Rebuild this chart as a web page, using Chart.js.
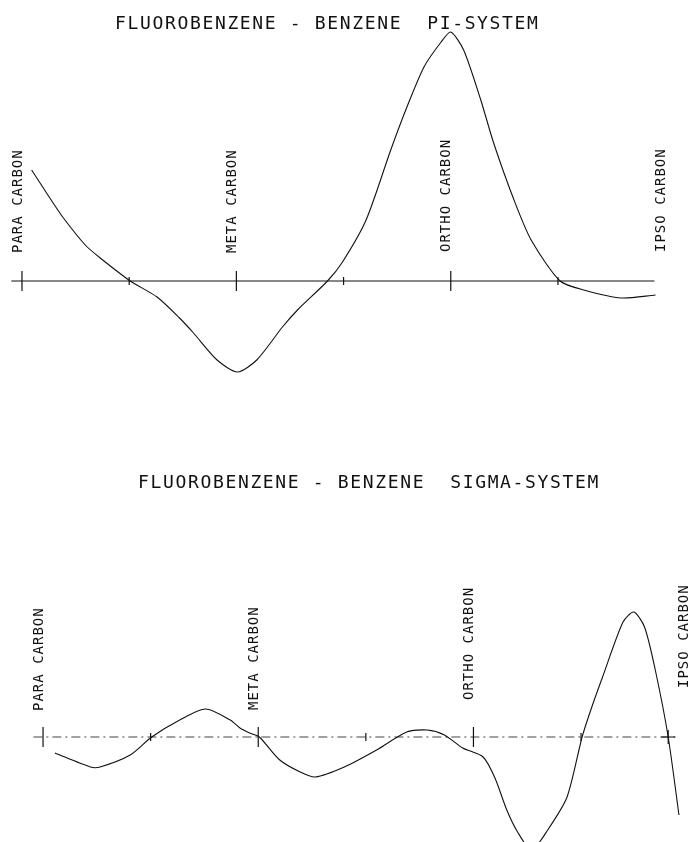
<!DOCTYPE html>
<html>
<head>
<meta charset="utf-8">
<script src="https://cdn.jsdelivr.net/npm/chart.js@4"></script>
<style>
  html, body { margin: 0; padding: 0; background: #fff; }
  .panel { position: absolute; left: 0; width: 688px; height: 421px; }
</style>
</head>
<body>
<div class="panel" style="top:0"><canvas id="pi" width="688" height="421"></canvas></div>
<div class="panel" style="top:421px"><canvas id="sigma" width="688" height="421"></canvas></div>
<script>
// ring positions along the x axis (para = 0 ... ipso = 6)
const carbonLabels = ["PARA CARBON", "META CARBON", "ORTHO CARBON", "IPSO CARBON"];
const carbonPositions = [0, 2, 4, 6];

// pi-system difference curve
const piX = [0.09, 0.26, 0.38, 0.59, 0.73, 1.01, 1.26, 1.47, 1.60, 1.82,
             2.01, 2.19, 2.43, 2.57, 2.85, 2.99, 3.21, 3.44, 3.58, 3.75,
             3.91, 4.00, 4.12, 4.28, 4.40, 4.59, 4.75, 5.02, 5.24, 5.59, 5.91];
const piY = [0.111, 0.083, 0.064, 0.036, 0.023, 0, -0.016, -0.037, -0.052, -0.079,
             -0.091, -0.079, -0.046, -0.029, 0, 0.019, 0.061, 0.131, 0.171, 0.214,
             0.239, 0.249, 0.231, 0.181, 0.138, 0.081, 0.041, 0, -0.009, -0.017, -0.014];
const piTicks = [0, 1, 2, 3, 4, 5];

// sigma-system difference curve
const sigmaX = [0.11, 0.44, 0.53, 0.81, 1.01, 1.27, 1.51, 1.74, 1.83, 1.92,
                2.01, 2.20, 2.39, 2.53, 2.80, 3.10, 3.38, 3.57, 3.73, 3.90,
                4.09, 4.20, 4.31, 4.41, 4.54, 4.69, 4.87, 5.01, 5.10, 5.20,
                5.39, 5.49, 5.59, 5.69, 5.81, 5.91];
const sigmaY = [-0.016, -0.030, -0.030, -0.018, 0, 0.017, 0.028, 0.017, 0.009, 0.004,
                0, -0.023, -0.035, -0.040, -0.030, -0.013, 0.005, 0.007, 0.002, -0.011,
                -0.020, -0.041, -0.073, -0.095, -0.113, -0.093, -0.060, 0, 0.030, 0.060,
                0.115, 0.125, 0.110, 0.067, 0, -0.078];
const sigmaTicks = [0, 1, 2, 3, 4, 5, 5.81];

const INK = "#111";
const MONO = "'DejaVu Sans Mono', monospace";

const decor = {
    id: "decor",
    beforeDatasetsDraw(chart, args, opts) {
        const { ctx } = chart;
        const x = chart.scales.x;
        const y0 = chart.scales.y.getPixelForValue(0);
        ctx.save();
        ctx.strokeStyle = opts.axisColor;
        ctx.lineWidth = 1.2;
        ctx.setLineDash(opts.axisDash);
        ctx.beginPath();
        ctx.moveTo(x.getPixelForValue(opts.axisFrom), y0);
        ctx.lineTo(x.getPixelForValue(opts.axisTo), y0);
        ctx.stroke();
        ctx.restore();
    },
    afterDraw(chart, args, opts) {
        const { ctx } = chart;
        const x = chart.scales.x;
        const y0 = chart.scales.y.getPixelForValue(0);
        ctx.save();
        ctx.fillStyle = INK;
        ctx.textAlign = "left";
        ctx.textBaseline = "alphabetic";
        ctx.font = "18px " + MONO;
        ctx.letterSpacing = "1.65px";
        ctx.fillText(opts.title, opts.titleX, opts.titleY);

        ctx.font = "14px " + MONO;
        ctx.letterSpacing = "1px";
        ctx.textBaseline = "middle";
        carbonLabels.forEach((label, i) => {
            ctx.save();
            ctx.translate(x.getPixelForValue(carbonPositions[i]) - 4, y0 - opts.lift[i]);
            ctx.rotate(-Math.PI / 2);
            ctx.fillText(label, 0, 0);
            ctx.restore();
        });
        ctx.restore();
    },
};

function makePanel(canvasId, xs, ys, ticks, xRange, yRange, decorOpts) {
    const curve = xs.map((v, i) => ({ x: v, y: ys[i] }));
    const marks = ticks.map((v) => ({ x: v, y: 0 }));
    const isCross = (c) => c.raw && !Number.isInteger(c.raw.x);

    return new Chart(document.getElementById(canvasId), {
        type: "scatter",
        data: {
            datasets: [
                {
                    data: curve,
                    showLine: true,
                    borderColor: INK,
                    borderWidth: 1.1,
                    tension: 0.25,
                    pointRadius: 0,
                },
                {
                    data: marks,
                    showLine: false,
                    borderColor: INK,
                    borderWidth: 1.2,
                    pointStyle: (c) => (isCross(c) ? "cross" : "line"),
                    rotation: (c) => (isCross(c) ? 0 : 90),
                    pointRadius: (c) => {
                        if (isCross(c)) return 7;
                        return carbonPositions.includes(c.raw.x) ? 10 : 4;
                    },
                },
            ],
        },
        options: {
            responsive: false,
            animation: false,
            events: [],
            layout: { padding: 0, autoPadding: false },
            scales: {
                x: { type: "linear", min: xRange[0], max: xRange[1], display: false },
                y: { min: yRange[0], max: yRange[1], display: false },
            },
            plugins: {
                legend: { display: false },
                tooltip: { enabled: false },
                decor: decorOpts,
            },
        },
        plugins: [decor],
    });
}

makePanel("pi", piX, piY, piTicks, [-0.205, 6.213], [-0.140, 0.281], {
    title: "FLUOROBENZENE - BENZENE  PI-SYSTEM",
    titleX: 115,
    titleY: 29,
    lift: [28, 28, 29, 29],
    axisFrom: -0.1,
    axisTo: 5.9,
    axisColor: INK,
    axisDash: [],
});

makePanel("sigma", sigmaX, sigmaY, sigmaTicks, [-0.400, 5.994], [-0.105, 0.316], {
    title: "FLUOROBENZENE - BENZENE  SIGMA-SYSTEM",
    titleX: 138,
    titleY: 67,
    lift: [26, 27, 37, 49],
    axisFrom: -0.09,
    axisTo: 5.89,
    axisColor: "#444",
    axisDash: [9, 4, 2, 4],
});
</script>
</body>
</html>
